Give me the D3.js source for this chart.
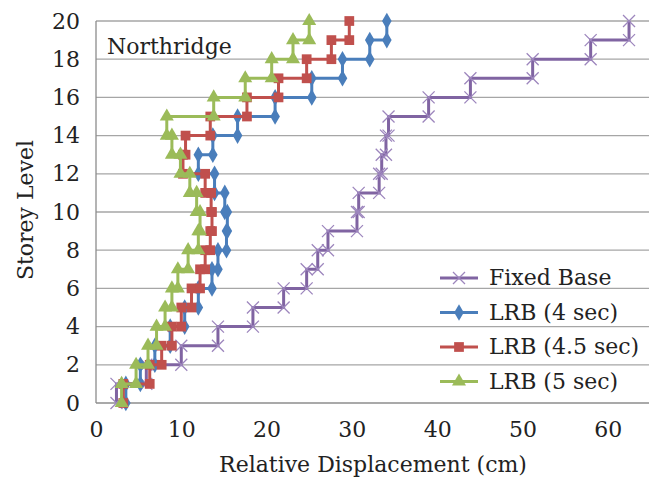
<!DOCTYPE html>
<html>
<head>
<meta charset="utf-8">
<script src="https://cdn.jsdelivr.net/npm/d3@7.9.0/dist/d3.min.js"></script>
<style>
  body { margin: 0; background: #fff; }
  text { font-family: "DejaVu Serif", "Liberation Serif", serif; fill: #222; }
</style>
</head>
<body>
<div id="chart"></div>
<script>
// storey displacement per storey (segment from level i to i+1), cm
const fixedBase = [2.4, 5.9, 10.0, 14.3, 18.4, 22.0, 24.7, 26.0, 27.2, 30.6, 30.8, 33.2, 33.5, 34.0, 34.3, 39.0, 43.9, 51.2, 58.0, 62.5];
const lrb4 = [3.5, 5.2, 6.9, 8.7, 10.4, 12.0, 13.6, 14.3, 15.3, 15.4, 15.1, 13.9, 12.0, 13.7, 16.6, 21.0, 25.3, 28.9, 32.1, 34.1];
const lrb45 = [3.2, 6.3, 7.7, 8.9, 10.0, 11.2, 12.2, 12.8, 13.4, 13.6, 13.5, 12.8, 10.2, 10.5, 13.4, 17.7, 21.4, 24.7, 27.6, 29.7];
const lrb5 = [3.0, 4.7, 6.1, 7.1, 8.1, 8.9, 9.6, 10.8, 12.0, 12.2, 11.8, 11.0, 9.9, 8.9, 8.3, 13.8, 17.5, 20.6, 23.1, 25.0];
const xTicks = [0, 10, 20, 30, 40, 50, 60];
const yTicks = [0, 2, 4, 6, 8, 10, 12, 14, 16, 18, 20];

const width = 649, height = 479;
const svg = d3.select('#chart').append('svg')
  .attr('width', width).attr('height', height);

const x = d3.scaleLinear().domain([0, 70]).range([96, 693]);
const y = d3.scaleLinear().domain([0, 20]).range([403, 21]);

// gridlines
svg.append('g').selectAll('line')
  .data(yTicks.filter(d => d > 0))
  .enter().append('line')
  .attr('x1', x(0)).attr('x2', width)
  .attr('y1', d => y(d)).attr('y2', d => y(d))
  .attr('stroke', '#a6a6a6').attr('stroke-width', 1.3);

// axis borders
svg.append('line').attr('x1', x(0)).attr('x2', x(0)).attr('y1', y(0)).attr('y2', y(20))
  .attr('stroke', '#8c8c8c').attr('stroke-width', 1.3);
svg.append('line').attr('x1', x(0)).attr('x2', width).attr('y1', y(0)).attr('y2', y(0))
  .attr('stroke', '#8c8c8c').attr('stroke-width', 1.3);

// tick labels
const yAxis = svg.append('g')
  .attr('transform', `translate(${x(0)},0)`)
  .call(d3.axisLeft(y).tickValues(yTicks).tickSize(0).tickPadding(16));
yAxis.select('.domain').remove();
yAxis.selectAll('text').style('font-size', '22px').attr('font-family', null);

const xAxis = svg.append('g')
  .attr('transform', `translate(0,${y(0)})`)
  .call(d3.axisBottom(x).tickValues(xTicks).tickSize(0).tickPadding(18));
xAxis.select('.domain').remove();
xAxis.selectAll('text').style('font-size', '22px').attr('font-family', null);

svg.append('text')
  .attr('x', 373).attr('y', 472)
  .attr('text-anchor', 'middle')
  .style('font-size', '22px')
  .text('Relative Displacement (cm)');

svg.append('text')
  .attr('transform', 'translate(33,210) rotate(-90)')
  .attr('text-anchor', 'middle')
  .style('font-size', '22px')
  .text('Storey Level');

svg.append('text')
  .attr('x', 107).attr('y', 54)
  .style('font-size', '22px')
  .text('Northridge');

const xMark = 'M-6,-6L6,6M-6,6L6,-6';
const series = [
  { data: fixedBase, color: '#8064A2', label: 'Fixed Base', marker: xMark, mcolor: '#9d86bd' },
  { data: lrb4, color: '#4A7EBB', label: 'LRB (4 sec)', marker: d3.symbol(d3.symbolDiamond, 80)() },
  { data: lrb45, color: '#C0504D', label: 'LRB (4.5 sec)', marker: d3.symbol(d3.symbolSquare, 95)() },
  { data: lrb5, color: '#9BBB59', label: 'LRB (5 sec)', marker: d3.symbol(d3.symbolTriangle, 85)() }
];

function steps(vals) {
  const pts = [];
  vals.forEach((v, i) => { pts.push([v, i]); pts.push([v, i + 1]); });
  return pts;
}

const line = d3.line().x(d => x(d[0])).y(d => y(d[1]));

series.forEach(s => {
  const pts = steps(s.data);
  const g = svg.append('g');
  g.append('path').datum(pts)
    .attr('fill', 'none').attr('stroke', s.color).attr('stroke-width', 3)
    .attr('d', line);
  g.selectAll('path.m').data(pts).enter().append('path')
    .attr('class', 'm')
    .attr('transform', d => `translate(${x(d[0])},${y(d[1])})`)
    .attr('d', s.marker)
    .attr('fill', s.mcolor ? 'none' : s.color)
    .attr('stroke', s.mcolor || 'none')
    .attr('stroke-width', 1.3);
});

// legend
series.forEach((s, i) => {
  const ly = 278 + i * 34.5;
  svg.append('line').attr('x1', 440).attr('x2', 478).attr('y1', ly).attr('y2', ly)
    .attr('stroke', s.color).attr('stroke-width', 3);
  svg.append('path')
    .attr('transform', `translate(459,${ly})`)
    .attr('d', s.marker)
    .attr('fill', s.mcolor ? 'none' : s.color)
    .attr('stroke', s.mcolor || 'none')
    .attr('stroke-width', 1.3);
  svg.append('text').attr('x', 489).attr('y', ly + 7)
    .style('font-size', '22px')
    .text(s.label);
});
</script>
</body>
</html>
